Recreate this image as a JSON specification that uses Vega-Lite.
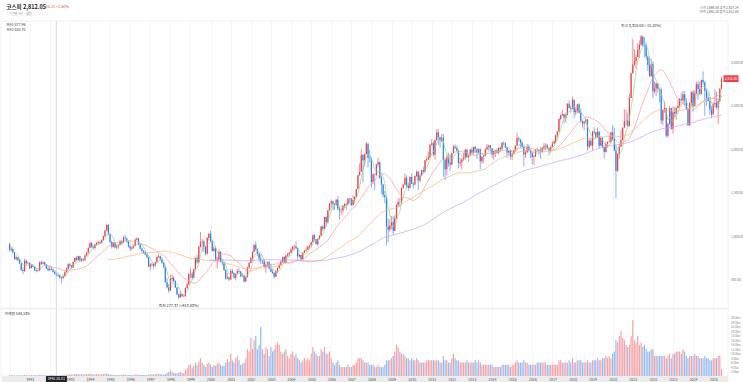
{
"$schema":"https://vega.github.io/schema/vega-lite/v6.json",
"background":"white",
"padding":{"top":3,"left":0,"right":0,"bottom":0},
"bounds":"flush",
"spacing":1,
"config":{"font":"Noto Sans CJK KR","view":{"stroke":"#e4e4e4","strokeWidth":0.6}},
"datasets":{"k":[
{"d":"1990-01","o":910,"h":925,"l":820,"c":845,"v":0.35},
{"d":"1990-02","o":845,"h":880,"l":825,"c":852,"v":0.3},
{"d":"1990-03","o":852,"h":870,"l":800,"c":816,"v":0.3},
{"d":"1990-04","o":816,"h":820,"l":730,"c":738,"v":0.25},
{"d":"1990-05","o":738,"h":775,"l":720,"c":758,"v":0.3},
{"d":"1990-06","o":758,"h":765,"l":715,"c":724,"v":0.25},
{"d":"1990-07","o":724,"h":740,"l":680,"c":689,"v":0.3},
{"d":"1990-08","o":689,"h":695,"l":600,"c":611,"v":0.35},
{"d":"1990-09","o":611,"h":640,"l":566,"c":599,"v":0.3},
{"d":"1990-10","o":599,"h":740,"l":590,"c":719,"v":0.45},
{"d":"1990-11","o":719,"h":730,"l":670,"c":690,"v":0.35},
{"d":"1990-12","o":690,"h":710,"l":675,"c":696,"v":0.3},
{"d":"1991-01","o":696,"h":700,"l":620,"c":635,"v":0.35},
{"d":"1991-02","o":635,"h":680,"l":630,"c":665,"v":0.4},
{"d":"1991-03","o":665,"h":680,"l":640,"c":650,"v":0.35},
{"d":"1991-04","o":650,"h":655,"l":600,"c":610,"v":0.3},
{"d":"1991-05","o":610,"h":630,"l":585,"c":600,"v":0.3},
{"d":"1991-06","o":600,"h":620,"l":590,"c":605,"v":0.3},
{"d":"1991-07","o":605,"h":710,"l":600,"c":700,"v":0.45},
{"d":"1991-08","o":700,"h":720,"l":670,"c":680,"v":0.4},
{"d":"1991-09","o":680,"h":710,"l":675,"c":700,"v":0.4},
{"d":"1991-10","o":700,"h":705,"l":660,"c":670,"v":0.35},
{"d":"1991-11","o":670,"h":680,"l":620,"c":630,"v":0.35},
{"d":"1991-12","o":630,"h":650,"l":595,"c":610,"v":0.35},
{"d":"1992-01","o":610,"h":660,"l":600,"c":624,"v":0.45},
{"d":"1992-02","o":624,"h":650,"l":610,"c":617,"v":0.5},
{"d":"1992-03","o":617,"h":630,"l":580,"c":590,"v":0.4},
{"d":"1992-04","o":590,"h":605,"l":555,"c":568,"v":0.35},
{"d":"1992-05","o":568,"h":585,"l":540,"c":555,"v":0.35},
{"d":"1992-06","o":555,"h":570,"l":530,"c":545,"v":0.35},
{"d":"1992-07","o":545,"h":560,"l":505,"c":527,"v":0.35},
{"d":"1992-08","o":527,"h":535,"l":459,"c":519,"v":0.4},
{"d":"1992-09","o":519,"h":560,"l":505,"c":540,"v":0.45},
{"d":"1992-10","o":540,"h":600,"l":535,"c":585,"v":0.55},
{"d":"1992-11","o":585,"h":640,"l":580,"c":624,"v":0.6},
{"d":"1992-12","o":624,"h":690,"l":615,"c":678,"v":0.7},
{"d":"1993-01","o":678,"h":690,"l":640,"c":660,"v":0.7},
{"d":"1993-02","o":660,"h":670,"l":625,"c":640,"v":0.6},
{"d":"1993-03","o":640,"h":710,"l":635,"c":705,"v":0.7},
{"d":"1993-04","o":705,"h":760,"l":700,"c":750,"v":0.9},
{"d":"1993-05","o":750,"h":770,"l":720,"c":727,"v":0.8},
{"d":"1993-06","o":727,"h":780,"l":720,"c":770,"v":0.8},
{"d":"1993-07","o":770,"h":775,"l":705,"c":720,"v":0.7},
{"d":"1993-08","o":720,"h":750,"l":700,"c":737,"v":0.75},
{"d":"1993-09","o":737,"h":745,"l":710,"c":725,"v":0.7},
{"d":"1993-10","o":725,"h":790,"l":720,"c":780,"v":0.8},
{"d":"1993-11","o":780,"h":820,"l":770,"c":810,"v":0.9},
{"d":"1993-12","o":810,"h":870,"l":800,"c":866,"v":1.0},
{"d":"1994-01","o":866,"h":940,"l":860,"c":920,"v":1.0},
{"d":"1994-02","o":920,"h":935,"l":870,"c":880,"v":0.8},
{"d":"1994-03","o":880,"h":895,"l":845,"c":865,"v":0.7},
{"d":"1994-04","o":865,"h":915,"l":850,"c":905,"v":0.8},
{"d":"1994-05","o":905,"h":935,"l":890,"c":925,"v":0.8},
{"d":"1994-06","o":925,"h":950,"l":905,"c":935,"v":0.8},
{"d":"1994-07","o":935,"h":950,"l":910,"c":925,"v":0.7},
{"d":"1994-08","o":925,"h":965,"l":915,"c":955,"v":0.8},
{"d":"1994-09","o":955,"h":1010,"l":945,"c":1000,"v":0.9},
{"d":"1994-10","o":1000,"h":1075,"l":990,"c":1065,"v":1.0},
{"d":"1994-11","o":1065,"h":1145,"l":1055,"c":1130,"v":1.1},
{"d":"1994-12","o":1130,"h":1140,"l":1010,"c":1027,"v":0.9},
{"d":"1995-01","o":1027,"h":1030,"l":920,"c":935,"v":0.7},
{"d":"1995-02","o":935,"h":950,"l":860,"c":880,"v":0.6},
{"d":"1995-03","o":880,"h":935,"l":870,"c":925,"v":0.6},
{"d":"1995-04","o":925,"h":935,"l":860,"c":870,"v":0.5},
{"d":"1995-05","o":870,"h":900,"l":850,"c":885,"v":0.5},
{"d":"1995-06","o":885,"h":910,"l":855,"c":900,"v":0.5},
{"d":"1995-07","o":900,"h":955,"l":895,"c":945,"v":0.6},
{"d":"1995-08","o":945,"h":955,"l":900,"c":925,"v":0.6},
{"d":"1995-09","o":925,"h":1000,"l":920,"c":985,"v":0.7},
{"d":"1995-10","o":985,"h":1015,"l":960,"c":975,"v":0.6},
{"d":"1995-11","o":975,"h":985,"l":920,"c":940,"v":0.5},
{"d":"1995-12","o":940,"h":950,"l":870,"c":882,"v":0.5},
{"d":"1996-01","o":882,"h":900,"l":830,"c":860,"v":0.5},
{"d":"1996-02","o":860,"h":885,"l":840,"c":870,"v":0.5},
{"d":"1996-03","o":870,"h":905,"l":855,"c":890,"v":0.5},
{"d":"1996-04","o":890,"h":975,"l":880,"c":960,"v":0.7},
{"d":"1996-05","o":960,"h":990,"l":950,"c":975,"v":0.7},
{"d":"1996-06","o":975,"h":980,"l":895,"c":905,"v":0.5},
{"d":"1996-07","o":905,"h":910,"l":845,"c":860,"v":0.5},
{"d":"1996-08","o":860,"h":870,"l":810,"c":830,"v":0.5},
{"d":"1996-09","o":830,"h":845,"l":795,"c":815,"v":0.5},
{"d":"1996-10","o":815,"h":830,"l":780,"c":790,"v":0.5},
{"d":"1996-11","o":790,"h":800,"l":740,"c":760,"v":0.5},
{"d":"1996-12","o":760,"h":770,"l":645,"c":651,"v":0.6},
{"d":"1997-01","o":651,"h":690,"l":610,"c":676,"v":0.8},
{"d":"1997-02","o":676,"h":700,"l":650,"c":680,"v":0.8},
{"d":"1997-03","o":680,"h":690,"l":620,"c":660,"v":0.7},
{"d":"1997-04","o":660,"h":705,"l":650,"c":700,"v":0.8},
{"d":"1997-05","o":700,"h":770,"l":695,"c":760,"v":1.0},
{"d":"1997-06","o":760,"h":795,"l":750,"c":770,"v":0.9},
{"d":"1997-07","o":770,"h":780,"l":720,"c":735,"v":0.8},
{"d":"1997-08","o":735,"h":760,"l":680,"c":695,"v":0.8},
{"d":"1997-09","o":695,"h":700,"l":630,"c":647,"v":0.7},
{"d":"1997-10","o":647,"h":660,"l":465,"c":470,"v":0.9},
{"d":"1997-11","o":470,"h":520,"l":400,"c":410,"v":1.3},
{"d":"1997-12","o":410,"h":450,"l":351,"c":376,"v":1.8},
{"d":"1998-01","o":376,"h":560,"l":370,"c":506,"v":2.6},
{"d":"1998-02","o":506,"h":560,"l":475,"c":520,"v":2.0},
{"d":"1998-03","o":520,"h":545,"l":470,"c":482,"v":1.5},
{"d":"1998-04","o":482,"h":495,"l":405,"c":410,"v":1.2},
{"d":"1998-05","o":410,"h":420,"l":325,"c":330,"v":1.3},
{"d":"1998-06","o":330,"h":345,"l":277.37,"c":298,"v":1.5},
{"d":"1998-07","o":298,"h":370,"l":290,"c":332,"v":1.8},
{"d":"1998-08","o":332,"h":345,"l":298,"c":310,"v":1.5},
{"d":"1998-09","o":310,"h":335,"l":300,"c":312,"v":1.3},
{"d":"1998-10","o":312,"h":410,"l":305,"c":405,"v":2.8},
{"d":"1998-11","o":405,"h":470,"l":395,"c":448,"v":3.5},
{"d":"1998-12","o":448,"h":580,"l":440,"c":562,"v":5.0},
{"d":"1999-01","o":562,"h":640,"l":520,"c":570,"v":5.0},
{"d":"1999-02","o":570,"h":590,"l":500,"c":520,"v":3.5},
{"d":"1999-03","o":520,"h":625,"l":515,"c":620,"v":4.5},
{"d":"1999-04","o":620,"h":760,"l":615,"c":750,"v":6.0},
{"d":"1999-05","o":750,"h":790,"l":680,"c":700,"v":5.0},
{"d":"1999-06","o":700,"h":885,"l":695,"c":880,"v":6.5},
{"d":"1999-07","o":880,"h":1050,"l":870,"c":930,"v":8.0},
{"d":"1999-08","o":930,"h":970,"l":830,"c":940,"v":6.0},
{"d":"1999-09","o":940,"h":955,"l":820,"c":880,"v":5.0},
{"d":"1999-10","o":880,"h":890,"l":780,"c":800,"v":4.0},
{"d":"1999-11","o":800,"h":990,"l":790,"c":980,"v":5.5},
{"d":"1999-12","o":980,"h":1035,"l":950,"c":1028,"v":6.0},
{"d":"2000-01","o":1028,"h":1066,"l":930,"c":943,"v":5.0},
{"d":"2000-02","o":943,"h":960,"l":825,"c":830,"v":4.0},
{"d":"2000-03","o":830,"h":890,"l":820,"c":860,"v":5.0},
{"d":"2000-04","o":860,"h":880,"l":710,"c":725,"v":4.5},
{"d":"2000-05","o":725,"h":760,"l":630,"c":730,"v":5.5},
{"d":"2000-06","o":730,"h":850,"l":700,"c":820,"v":6.0},
{"d":"2000-07","o":820,"h":830,"l":700,"c":705,"v":5.0},
{"d":"2000-08","o":705,"h":735,"l":660,"c":690,"v":4.5},
{"d":"2000-09","o":690,"h":710,"l":600,"c":613,"v":4.5},
{"d":"2000-10","o":613,"h":625,"l":500,"c":514,"v":6.0},
{"d":"2000-11","o":514,"h":580,"l":505,"c":526,"v":7.5},
{"d":"2000-12","o":526,"h":540,"l":483,"c":504,"v":6.5},
{"d":"2001-01","o":504,"h":625,"l":500,"c":600,"v":10},
{"d":"2001-02","o":600,"h":625,"l":565,"c":575,"v":7},
{"d":"2001-03","o":575,"h":585,"l":510,"c":523,"v":6},
{"d":"2001-04","o":523,"h":575,"l":490,"c":570,"v":8},
{"d":"2001-05","o":570,"h":630,"l":560,"c":600,"v":9},
{"d":"2001-06","o":600,"h":630,"l":580,"c":595,"v":7},
{"d":"2001-07","o":595,"h":600,"l":530,"c":540,"v":5},
{"d":"2001-08","o":540,"h":575,"l":535,"c":545,"v":5.5},
{"d":"2001-09","o":545,"h":555,"l":468,"c":480,"v":6},
{"d":"2001-10","o":480,"h":540,"l":475,"c":530,"v":8},
{"d":"2001-11","o":530,"h":650,"l":525,"c":640,"v":12},
{"d":"2001-12","o":640,"h":705,"l":630,"c":693,"v":11},
{"d":"2002-01","o":693,"h":760,"l":690,"c":750,"v":17},
{"d":"2002-02","o":750,"h":825,"l":720,"c":820,"v":12},
{"d":"2002-03","o":820,"h":915,"l":815,"c":900,"v":16},
{"d":"2002-04","o":900,"h":943,"l":835,"c":850,"v":18},
{"d":"2002-05","o":850,"h":860,"l":770,"c":800,"v":12},
{"d":"2002-06","o":800,"h":820,"l":700,"c":742,"v":14},
{"d":"2002-07","o":742,"h":790,"l":680,"c":720,"v":22},
{"d":"2002-08","o":720,"h":730,"l":680,"c":720,"v":12},
{"d":"2002-09","o":720,"h":730,"l":640,"c":650,"v":10},
{"d":"2002-10","o":650,"h":690,"l":580,"c":670,"v":13},
{"d":"2002-11","o":670,"h":710,"l":650,"c":700,"v":12},
{"d":"2002-12","o":700,"h":720,"l":620,"c":627,"v":9},
{"d":"2003-01","o":627,"h":680,"l":585,"c":591,"v":13},
{"d":"2003-02","o":591,"h":620,"l":570,"c":575,"v":11},
{"d":"2003-03","o":575,"h":590,"l":515,"c":535,"v":12},
{"d":"2003-04","o":535,"h":610,"l":530,"c":600,"v":14},
{"d":"2003-05","o":600,"h":640,"l":580,"c":633,"v":15},
{"d":"2003-06","o":633,"h":685,"l":630,"c":670,"v":14},
{"d":"2003-07","o":670,"h":725,"l":660,"c":710,"v":11},
{"d":"2003-08","o":710,"h":765,"l":690,"c":760,"v":10},
{"d":"2003-09","o":760,"h":770,"l":690,"c":697,"v":11},
{"d":"2003-10","o":697,"h":790,"l":690,"c":779,"v":12},
{"d":"2003-11","o":779,"h":810,"l":760,"c":796,"v":9},
{"d":"2003-12","o":796,"h":820,"l":765,"c":810,"v":8},
{"d":"2004-01","o":810,"h":870,"l":805,"c":848,"v":10},
{"d":"2004-02","o":848,"h":890,"l":830,"c":880,"v":11},
{"d":"2004-03","o":880,"h":905,"l":850,"c":883,"v":9},
{"d":"2004-04","o":883,"h":940,"l":860,"c":862,"v":10},
{"d":"2004-05","o":862,"h":870,"l":715,"c":770,"v":8},
{"d":"2004-06","o":770,"h":800,"l":750,"c":785,"v":7},
{"d":"2004-07","o":785,"h":790,"l":720,"c":735,"v":6},
{"d":"2004-08","o":735,"h":815,"l":730,"c":810,"v":7},
{"d":"2004-09","o":810,"h":845,"l":805,"c":835,"v":8},
{"d":"2004-10","o":835,"h":870,"l":820,"c":845,"v":7},
{"d":"2004-11","o":845,"h":890,"l":840,"c":880,"v":8},
{"d":"2004-12","o":880,"h":900,"l":860,"c":896,"v":7},
{"d":"2005-01","o":896,"h":940,"l":870,"c":932,"v":10},
{"d":"2005-02","o":932,"h":1020,"l":925,"c":1011,"v":13},
{"d":"2005-03","o":1011,"h":1025,"l":950,"c":965,"v":11},
{"d":"2005-04","o":965,"h":970,"l":900,"c":911,"v":10},
{"d":"2005-05","o":911,"h":975,"l":890,"c":970,"v":9},
{"d":"2005-06","o":970,"h":1010,"l":960,"c":1008,"v":9},
{"d":"2005-07","o":1008,"h":1115,"l":1000,"c":1111,"v":12},
{"d":"2005-08","o":1111,"h":1130,"l":1060,"c":1083,"v":11},
{"d":"2005-09","o":1083,"h":1225,"l":1080,"c":1221,"v":13},
{"d":"2005-10","o":1221,"h":1230,"l":1110,"c":1158,"v":10},
{"d":"2005-11","o":1158,"h":1300,"l":1150,"c":1297,"v":10},
{"d":"2005-12","o":1297,"h":1380,"l":1290,"c":1379,"v":11},
{"d":"2006-01","o":1379,"h":1421,"l":1320,"c":1399,"v":8},
{"d":"2006-02","o":1399,"h":1410,"l":1300,"c":1371,"v":6},
{"d":"2006-03","o":1371,"h":1380,"l":1300,"c":1359,"v":5},
{"d":"2006-04","o":1359,"h":1430,"l":1350,"c":1420,"v":6},
{"d":"2006-05","o":1420,"h":1464,"l":1300,"c":1317,"v":7},
{"d":"2006-06","o":1317,"h":1340,"l":1192,"c":1295,"v":5},
{"d":"2006-07","o":1295,"h":1320,"l":1240,"c":1297,"v":4},
{"d":"2006-08","o":1297,"h":1360,"l":1270,"c":1352,"v":4},
{"d":"2006-09","o":1352,"h":1385,"l":1320,"c":1371,"v":4},
{"d":"2006-10","o":1371,"h":1380,"l":1300,"c":1364,"v":4},
{"d":"2006-11","o":1364,"h":1440,"l":1360,"c":1432,"v":5},
{"d":"2006-12","o":1432,"h":1440,"l":1380,"c":1434,"v":4},
{"d":"2007-01","o":1434,"h":1440,"l":1345,"c":1360,"v":4},
{"d":"2007-02","o":1360,"h":1470,"l":1355,"c":1417,"v":5},
{"d":"2007-03","o":1417,"h":1460,"l":1380,"c":1452,"v":5},
{"d":"2007-04","o":1452,"h":1545,"l":1445,"c":1542,"v":6},
{"d":"2007-05","o":1542,"h":1705,"l":1540,"c":1700,"v":8},
{"d":"2007-06","o":1700,"h":1840,"l":1690,"c":1743,"v":8},
{"d":"2007-07","o":1743,"h":2005,"l":1740,"c":1933,"v":8},
{"d":"2007-08","o":1933,"h":1950,"l":1620,"c":1873,"v":7},
{"d":"2007-09","o":1873,"h":1950,"l":1800,"c":1946,"v":6},
{"d":"2007-10","o":1946,"h":2085,"l":1940,"c":2064,"v":6},
{"d":"2007-11","o":2064,"h":2070,"l":1790,"c":1906,"v":6},
{"d":"2007-12","o":1906,"h":1990,"l":1850,"c":1897,"v":5},
{"d":"2008-01","o":1897,"h":1900,"l":1560,"c":1624,"v":5},
{"d":"2008-02","o":1624,"h":1730,"l":1600,"c":1711,"v":5},
{"d":"2008-03","o":1711,"h":1720,"l":1535,"c":1704,"v":4},
{"d":"2008-04","o":1704,"h":1830,"l":1690,"c":1825,"v":4},
{"d":"2008-05","o":1825,"h":1901,"l":1800,"c":1852,"v":5},
{"d":"2008-06","o":1852,"h":1860,"l":1660,"c":1674,"v":4},
{"d":"2008-07","o":1674,"h":1700,"l":1488,"c":1594,"v":4},
{"d":"2008-08","o":1594,"h":1600,"l":1446,"c":1474,"v":4},
{"d":"2008-09","o":1474,"h":1520,"l":1380,"c":1448,"v":5},
{"d":"2008-10","o":1448,"h":1450,"l":892,"c":1113,"v":7},
{"d":"2008-11","o":1113,"h":1205,"l":930,"c":1076,"v":7},
{"d":"2008-12","o":1076,"h":1200,"l":1050,"c":1124,"v":7},
{"d":"2009-01","o":1124,"h":1230,"l":1080,"c":1162,"v":8},
{"d":"2009-02","o":1162,"h":1230,"l":1018,"c":1063,"v":9},
{"d":"2009-03","o":1063,"h":1240,"l":1060,"c":1206,"v":11},
{"d":"2009-04","o":1206,"h":1375,"l":1200,"c":1357,"v":14},
{"d":"2009-05","o":1357,"h":1435,"l":1330,"c":1395,"v":13},
{"d":"2009-06","o":1395,"h":1440,"l":1340,"c":1390,"v":11},
{"d":"2009-07","o":1390,"h":1560,"l":1370,"c":1557,"v":10},
{"d":"2009-08","o":1557,"h":1600,"l":1540,"c":1591,"v":10},
{"d":"2009-09","o":1591,"h":1724,"l":1590,"c":1673,"v":9},
{"d":"2009-10","o":1673,"h":1700,"l":1560,"c":1580,"v":8},
{"d":"2009-11","o":1580,"h":1620,"l":1520,"c":1555,"v":8},
{"d":"2009-12","o":1555,"h":1690,"l":1550,"c":1682,"v":7},
{"d":"2010-01","o":1682,"h":1723,"l":1600,"c":1602,"v":8},
{"d":"2010-02","o":1602,"h":1625,"l":1552,"c":1594,"v":7},
{"d":"2010-03","o":1594,"h":1700,"l":1590,"c":1692,"v":7},
{"d":"2010-04","o":1692,"h":1757,"l":1680,"c":1741,"v":8},
{"d":"2010-05","o":1741,"h":1752,"l":1532,"c":1641,"v":7},
{"d":"2010-06","o":1641,"h":1720,"l":1620,"c":1698,"v":6},
{"d":"2010-07","o":1698,"h":1765,"l":1690,"c":1759,"v":6},
{"d":"2010-08","o":1759,"h":1800,"l":1720,"c":1742,"v":6},
{"d":"2010-09","o":1742,"h":1880,"l":1740,"c":1872,"v":6},
{"d":"2010-10","o":1872,"h":1920,"l":1860,"c":1882,"v":7},
{"d":"2010-11","o":1882,"h":1975,"l":1880,"c":1904,"v":7},
{"d":"2010-12","o":1904,"h":2060,"l":1900,"c":2051,"v":7},
{"d":"2011-01","o":2051,"h":2117,"l":2040,"c":2069,"v":7},
{"d":"2011-02","o":2069,"h":2090,"l":1920,"c":1939,"v":7},
{"d":"2011-03","o":1939,"h":2110,"l":1882,"c":2106,"v":7},
{"d":"2011-04","o":2106,"h":2231,"l":2100,"c":2192,"v":7},
{"d":"2011-05","o":2192,"h":2229,"l":2050,"c":2142,"v":7},
{"d":"2011-06","o":2142,"h":2145,"l":2020,"c":2100,"v":6},
{"d":"2011-07","o":2100,"h":2180,"l":2080,"c":2133,"v":6},
{"d":"2011-08","o":2133,"h":2175,"l":1684,"c":1880,"v":9},
{"d":"2011-09","o":1880,"h":1890,"l":1644,"c":1769,"v":7},
{"d":"2011-10","o":1769,"h":1930,"l":1700,"c":1909,"v":7},
{"d":"2011-11","o":1909,"h":1960,"l":1800,"c":1847,"v":6},
{"d":"2011-12","o":1847,"h":1946,"l":1750,"c":1826,"v":6},
{"d":"2012-01","o":1826,"h":1960,"l":1815,"c":1955,"v":8},
{"d":"2012-02","o":1955,"h":2050,"l":1950,"c":2030,"v":10},
{"d":"2012-03","o":2030,"h":2057,"l":2000,"c":2014,"v":8},
{"d":"2012-04","o":2014,"h":2040,"l":1970,"c":1982,"v":7},
{"d":"2012-05","o":1982,"h":1995,"l":1780,"c":1843,"v":7},
{"d":"2012-06","o":1843,"h":1900,"l":1800,"c":1854,"v":6},
{"d":"2012-07","o":1854,"h":1900,"l":1770,"c":1881,"v":6},
{"d":"2012-08","o":1881,"h":1960,"l":1870,"c":1905,"v":6},
{"d":"2012-09","o":1905,"h":2007,"l":1880,"c":1996,"v":6},
{"d":"2012-10","o":1996,"h":2000,"l":1900,"c":1912,"v":7},
{"d":"2012-11","o":1912,"h":1940,"l":1860,"c":1932,"v":6},
{"d":"2012-12","o":1932,"h":2000,"l":1920,"c":1997,"v":6},
{"d":"2013-01","o":1997,"h":2031,"l":1940,"c":1961,"v":6},
{"d":"2013-02","o":1961,"h":2030,"l":1935,"c":2026,"v":6},
{"d":"2013-03","o":2026,"h":2040,"l":1960,"c":2005,"v":7},
{"d":"2013-04","o":2005,"h":2010,"l":1890,"c":1964,"v":6},
{"d":"2013-05","o":1964,"h":2010,"l":1950,"c":2001,"v":7},
{"d":"2013-06","o":2001,"h":2010,"l":1770,"c":1863,"v":6},
{"d":"2013-07","o":1863,"h":1920,"l":1830,"c":1914,"v":5},
{"d":"2013-08","o":1914,"h":1940,"l":1845,"c":1926,"v":5},
{"d":"2013-09","o":1926,"h":2010,"l":1920,"c":1997,"v":5},
{"d":"2013-10","o":1997,"h":2060,"l":1990,"c":2030,"v":5},
{"d":"2013-11","o":2030,"h":2050,"l":1990,"c":2044,"v":5},
{"d":"2013-12","o":2044,"h":2050,"l":1960,"c":2011,"v":5},
{"d":"2014-01","o":2011,"h":2015,"l":1900,"c":1941,"v":5},
{"d":"2014-02","o":1941,"h":1985,"l":1880,"c":1980,"v":4},
{"d":"2014-03","o":1980,"h":1990,"l":1910,"c":1985,"v":4},
{"d":"2014-04","o":1985,"h":2010,"l":1950,"c":1961,"v":4},
{"d":"2014-05","o":1961,"h":2020,"l":1940,"c":2017,"v":4},
{"d":"2014-06","o":2017,"h":2030,"l":1970,"c":2002,"v":4},
{"d":"2014-07","o":2002,"h":2082,"l":1990,"c":2076,"v":5},
{"d":"2014-08","o":2076,"h":2093,"l":2040,"c":2068,"v":5},
{"d":"2014-09","o":2068,"h":2080,"l":2010,"c":2020,"v":5},
{"d":"2014-10","o":2020,"h":2030,"l":1900,"c":1964,"v":5},
{"d":"2014-11","o":1964,"h":1990,"l":1930,"c":1981,"v":5},
{"d":"2014-12","o":1981,"h":2000,"l":1880,"c":1916,"v":4},
{"d":"2015-01","o":1916,"h":1960,"l":1880,"c":1949,"v":5},
{"d":"2015-02","o":1949,"h":1990,"l":1940,"c":1986,"v":5},
{"d":"2015-03","o":1986,"h":2050,"l":1975,"c":2041,"v":6},
{"d":"2015-04","o":2041,"h":2189,"l":2040,"c":2127,"v":7},
{"d":"2015-05","o":2127,"h":2145,"l":2090,"c":2114,"v":6},
{"d":"2015-06","o":2114,"h":2120,"l":2020,"c":2074,"v":6},
{"d":"2015-07","o":2074,"h":2100,"l":2020,"c":2030,"v":6},
{"d":"2015-08","o":2030,"h":2040,"l":1800,"c":1941,"v":7},
{"d":"2015-09","o":1941,"h":1990,"l":1900,"c":1963,"v":6},
{"d":"2015-10","o":1963,"h":2060,"l":1960,"c":2029,"v":6},
{"d":"2015-11","o":2029,"h":2055,"l":1970,"c":1991,"v":5},
{"d":"2015-12","o":1991,"h":2000,"l":1900,"c":1961,"v":5},
{"d":"2016-01","o":1961,"h":1970,"l":1830,"c":1912,"v":5},
{"d":"2016-02","o":1912,"h":1935,"l":1817,"c":1917,"v":5},
{"d":"2016-03","o":1917,"h":2000,"l":1910,"c":1996,"v":5},
{"d":"2016-04","o":1996,"h":2020,"l":1970,"c":1994,"v":6},
{"d":"2016-05","o":1994,"h":2000,"l":1930,"c":1983,"v":6},
{"d":"2016-06","o":1983,"h":2030,"l":1890,"c":1970,"v":6},
{"d":"2016-07","o":1970,"h":2025,"l":1960,"c":2016,"v":6},
{"d":"2016-08","o":2016,"h":2070,"l":2000,"c":2034,"v":6},
{"d":"2016-09","o":2034,"h":2070,"l":1990,"c":2043,"v":6},
{"d":"2016-10","o":2043,"h":2060,"l":2000,"c":2008,"v":5},
{"d":"2016-11","o":2008,"h":2020,"l":1930,"c":1983,"v":5},
{"d":"2016-12","o":1983,"h":2040,"l":1960,"c":2026,"v":5},
{"d":"2017-01","o":2026,"h":2090,"l":2020,"c":2067,"v":5},
{"d":"2017-02","o":2067,"h":2100,"l":2060,"c":2091,"v":5},
{"d":"2017-03","o":2091,"h":2170,"l":2070,"c":2160,"v":5},
{"d":"2017-04","o":2160,"h":2210,"l":2130,"c":2205,"v":5},
{"d":"2017-05","o":2205,"h":2355,"l":2200,"c":2347,"v":7},
{"d":"2017-06","o":2347,"h":2400,"l":2330,"c":2392,"v":7},
{"d":"2017-07","o":2392,"h":2453,"l":2380,"c":2402,"v":6},
{"d":"2017-08","o":2402,"h":2410,"l":2300,"c":2363,"v":6},
{"d":"2017-09","o":2363,"h":2420,"l":2310,"c":2394,"v":6},
{"d":"2017-10","o":2394,"h":2530,"l":2390,"c":2523,"v":6},
{"d":"2017-11","o":2523,"h":2561,"l":2470,"c":2476,"v":7},
{"d":"2017-12","o":2476,"h":2500,"l":2420,"c":2467,"v":6},
{"d":"2018-01","o":2467,"h":2607,"l":2460,"c":2566,"v":8},
{"d":"2018-02","o":2566,"h":2580,"l":2360,"c":2427,"v":6},
{"d":"2018-03","o":2427,"h":2480,"l":2390,"c":2445,"v":6},
{"d":"2018-04","o":2445,"h":2520,"l":2410,"c":2515,"v":7},
{"d":"2018-05","o":2515,"h":2530,"l":2410,"c":2423,"v":7},
{"d":"2018-06","o":2423,"h":2470,"l":2310,"c":2326,"v":7},
{"d":"2018-07","o":2326,"h":2330,"l":2250,"c":2295,"v":6},
{"d":"2018-08","o":2295,"h":2330,"l":2220,"c":2322,"v":6},
{"d":"2018-09","o":2322,"h":2360,"l":2290,"c":2343,"v":6},
{"d":"2018-10","o":2343,"h":2345,"l":1985,"c":2029,"v":7},
{"d":"2018-11","o":2029,"h":2120,"l":2010,"c":2097,"v":6},
{"d":"2018-12","o":2097,"h":2130,"l":2040,"c":2041,"v":6},
{"d":"2019-01","o":2041,"h":2210,"l":1990,"c":2205,"v":7},
{"d":"2019-02","o":2205,"h":2250,"l":2170,"c":2195,"v":7},
{"d":"2019-03","o":2195,"h":2200,"l":2120,"c":2140,"v":7},
{"d":"2019-04","o":2140,"h":2250,"l":2130,"c":2203,"v":8},
{"d":"2019-05","o":2203,"h":2210,"l":2010,"c":2041,"v":7},
{"d":"2019-06","o":2041,"h":2140,"l":2040,"c":2130,"v":7},
{"d":"2019-07","o":2130,"h":2140,"l":2010,"c":2024,"v":8},
{"d":"2019-08","o":2024,"h":2030,"l":1891,"c":1968,"v":8},
{"d":"2019-09","o":1968,"h":2090,"l":1960,"c":2063,"v":9},
{"d":"2019-10","o":2063,"h":2090,"l":2020,"c":2083,"v":8},
{"d":"2019-11","o":2083,"h":2160,"l":2080,"c":2087,"v":9},
{"d":"2019-12","o":2087,"h":2200,"l":2070,"c":2197,"v":8},
{"d":"2020-01","o":2197,"h":2277,"l":2110,"c":2119,"v":10},
{"d":"2020-02","o":2119,"h":2250,"l":1980,"c":1987,"v":11},
{"d":"2020-03","o":1987,"h":2040,"l":1439,"c":1754,"v":16},
{"d":"2020-04","o":1754,"h":1960,"l":1740,"c":1947,"v":15},
{"d":"2020-05","o":1947,"h":2060,"l":1890,"c":2030,"v":18},
{"d":"2020-06","o":2030,"h":2220,"l":2030,"c":2108,"v":20},
{"d":"2020-07","o":2108,"h":2250,"l":2100,"c":2249,"v":17},
{"d":"2020-08","o":2249,"h":2460,"l":2240,"c":2326,"v":16},
{"d":"2020-09","o":2326,"h":2450,"l":2270,"c":2327,"v":14},
{"d":"2020-10","o":2327,"h":2420,"l":2260,"c":2267,"v":13},
{"d":"2020-11","o":2267,"h":2640,"l":2260,"c":2591,"v":14},
{"d":"2020-12","o":2591,"h":2880,"l":2590,"c":2873,"v":18},
{"d":"2021-01","o":2873,"h":3266,"l":2870,"c":2976,"v":25},
{"d":"2021-02","o":2976,"h":3150,"l":2960,"c":3013,"v":16},
{"d":"2021-03","o":3013,"h":3090,"l":2930,"c":3061,"v":15},
{"d":"2021-04","o":3061,"h":3220,"l":3060,"c":3147,"v":18},
{"d":"2021-05","o":3147,"h":3250,"l":3050,"c":3203,"v":14},
{"d":"2021-06","o":3203,"h":3316.08,"l":3190,"c":3296,"v":15},
{"d":"2021-07","o":3296,"h":3305,"l":3180,"c":3202,"v":13},
{"d":"2021-08","o":3202,"h":3290,"l":3060,"c":3199,"v":14},
{"d":"2021-09","o":3199,"h":3230,"l":3030,"c":3068,"v":12},
{"d":"2021-10","o":3068,"h":3080,"l":2900,"c":2970,"v":11},
{"d":"2021-11","o":2970,"h":3050,"l":2830,"c":2839,"v":11},
{"d":"2021-12","o":2839,"h":3040,"l":2840,"c":2977,"v":12},
{"d":"2022-01","o":2977,"h":3010,"l":2591,"c":2663,"v":12},
{"d":"2022-02","o":2663,"h":2780,"l":2640,"c":2699,"v":9},
{"d":"2022-03","o":2699,"h":2770,"l":2610,"c":2757,"v":9},
{"d":"2022-04","o":2757,"h":2760,"l":2650,"c":2695,"v":9},
{"d":"2022-05","o":2695,"h":2700,"l":2540,"c":2685,"v":9},
{"d":"2022-06","o":2685,"h":2710,"l":2290,"c":2332,"v":9},
{"d":"2022-07","o":2332,"h":2460,"l":2276,"c":2451,"v":9},
{"d":"2022-08","o":2451,"h":2550,"l":2420,"c":2472,"v":9},
{"d":"2022-09","o":2472,"h":2480,"l":2134,"c":2155,"v":8},
{"d":"2022-10","o":2155,"h":2300,"l":2140,"c":2293,"v":9},
{"d":"2022-11","o":2293,"h":2500,"l":2280,"c":2472,"v":10},
{"d":"2022-12","o":2472,"h":2480,"l":2220,"c":2236,"v":8},
{"d":"2023-01","o":2236,"h":2490,"l":2180,"c":2425,"v":10},
{"d":"2023-02","o":2425,"h":2490,"l":2370,"c":2412,"v":10},
{"d":"2023-03","o":2412,"h":2490,"l":2340,"c":2476,"v":11},
{"d":"2023-04","o":2476,"h":2570,"l":2470,"c":2501,"v":11},
{"d":"2023-05","o":2501,"h":2590,"l":2470,"c":2577,"v":11},
{"d":"2023-06","o":2577,"h":2650,"l":2550,"c":2564,"v":10},
{"d":"2023-07","o":2564,"h":2670,"l":2520,"c":2632,"v":12},
{"d":"2023-08","o":2632,"h":2670,"l":2500,"c":2556,"v":11},
{"d":"2023-09","o":2556,"h":2590,"l":2450,"c":2465,"v":9},
{"d":"2023-10","o":2465,"h":2470,"l":2270,"c":2277,"v":8},
{"d":"2023-11","o":2277,"h":2540,"l":2270,"c":2535,"v":9},
{"d":"2023-12","o":2535,"h":2670,"l":2490,"c":2655,"v":9},
{"d":"2024-01","o":2655,"h":2680,"l":2430,"c":2497,"v":9},
{"d":"2024-02","o":2497,"h":2680,"l":2490,"c":2642,"v":10},
{"d":"2024-03","o":2642,"h":2780,"l":2630,"c":2747,"v":9},
{"d":"2024-04","o":2747,"h":2780,"l":2570,"c":2692,"v":9},
{"d":"2024-05","o":2692,"h":2780,"l":2620,"c":2636,"v":8},
{"d":"2024-06","o":2636,"h":2800,"l":2630,"c":2798,"v":8},
{"d":"2024-07","o":2798,"h":2896,"l":2740,"c":2770,"v":8},
{"d":"2024-08","o":2770,"h":2780,"l":2386,"c":2674,"v":9},
{"d":"2024-09","o":2674,"h":2690,"l":2500,"c":2593,"v":8},
{"d":"2024-10","o":2593,"h":2650,"l":2550,"c":2556,"v":8},
{"d":"2024-11","o":2556,"h":2600,"l":2400,"c":2456,"v":7},
{"d":"2024-12","o":2456,"h":2500,"l":2360,"c":2399,"v":7},
{"d":"2025-01","o":2399,"h":2540,"l":2400,"c":2517,"v":8},
{"d":"2025-02","o":2517,"h":2690,"l":2480,"c":2532,"v":8},
{"d":"2025-03","o":2532,"h":2660,"l":2460,"c":2481,"v":8},
{"d":"2025-04","o":2481,"h":2580,"l":2284,"c":2556,"v":9},
{"d":"2025-05","o":2556,"h":2700,"l":2550,"c":2698,"v":9},
{"d":"2025-06","o":2698,"h":2827,"l":2690,"c":2812.05,"v":3}
]},
"vconcat":[
{
"width":727,"height":287,
"data":{"name":"k"},
"encoding":{"x":{"field":"d","type":"temporal","scale":{"type":"utc","domain":[625536000000,1751068800000]},
  "axis":{"orient":"top","labels":false,"ticks":false,"domain":false,"grid":true,"gridColor":"#f0f0f0","gridWidth":0.6,
  "tickCount":{"interval":"year","step":1},
  "title":["시가  2,698.58    고가  2,827.24","저가  2,682.20    종가  2,812.05"],
  "titleFontSize":3.2,"titleFontWeight":"normal","titleColor":"#555","titleLineHeight":4.2,
  "titleX":737,"titleY":-14,"titleAlign":"right","titleBaseline":"middle"}}},
"layer":[
 {"mark":{"type":"rule","strokeWidth":0.6},
  "encoding":{
   "y":{"field":"l","type":"quantitative","scale":{"domain":[175,3475],"nice":false,"zero":false},
     "axis":{"orient":"left","labels":false,"ticks":false,"domain":false,"grid":false,
       "title":"코스피  2,812.05","titleAngle":0,"titleX":5,"titleY":-15,"titleAlign":"left","titleBaseline":"middle",
       "titleFontSize":5.5,"titleFontWeight":"bold","titleColor":"#222"}},
   "y2":{"field":"h"},
   "color":{"condition":{"test":"datum.c >= datum.o","value":"#ee3f49"},"value":"#2f80ed"}}},
 {"mark":{"type":"bar","width":1.2},
  "encoding":{
   "y":{"field":"o","type":"quantitative",
     "axis":{"orient":"right","values":[500,1000,1500,2000,2500,3000],"format":",.2f","labelFontSize":3.2,"labelColor":"#777",
       "labelPadding":2.5,"ticks":false,"tickSize":0,"domain":false,"grid":false,
       "title":"+44.21  +1.60%","titleAngle":0,"titleX":-685,"titleY":-15,"titleAlign":"left","titleBaseline":"middle",
       "titleFontSize":3.8,"titleFontWeight":"normal","titleColor":"#ee3f49"}},
   "y2":{"field":"c"},
   "color":{"condition":{"test":"datum.c >= datum.o","value":"#ee3f49"},"value":"#2f80ed"}}},
 {"transform":[{"window":[{"op":"mean","field":"c","as":"m"},{"op":"count","as":"n"}],"frame":[-4,0],"sort":[{"field":"d"}]},{"filter":"datum.n >= 5"}],
  "mark":{"type":"line","strokeWidth":0.7},
  "encoding":{"y":{"field":"m","type":"quantitative","axis":null},
   "color":{"datum":"MA1","type":"nominal",
     "scale":{"domain":["MA1","MA2","MA3","MA4"],"range":["#92d68b","#f39c9c","#f7b579","#c6a0ef"]},
     "legend":{"orient":"top-left","values":["MA1","MA2"],"title":null,"symbolSize":0,"symbolOpacity":0,"symbolStrokeWidth":0,
       "labelOffset":0,"labelFontSize":3.6,"labelColor":"#444","offset":1,"padding":1,"rowPadding":0.5,
       "labelExpr":"datum.label == 'MA1' ? 'MA1                 877.96' : 'MA2                 850.70'"}}}},
 {"transform":[{"window":[{"op":"mean","field":"c","as":"m"},{"op":"count","as":"n"}],"frame":[-19,0],"sort":[{"field":"d"}]},{"filter":"datum.n >= 20"}],
  "mark":{"type":"line","strokeWidth":0.7},
  "encoding":{"y":{"field":"m","type":"quantitative","axis":null},"color":{"datum":"MA2","type":"nominal"}}},
 {"transform":[{"window":[{"op":"mean","field":"c","as":"m"},{"op":"count","as":"n"}],"frame":[-59,0],"sort":[{"field":"d"}]},{"filter":"datum.n >= 60"}],
  "mark":{"type":"line","strokeWidth":0.7},
  "encoding":{"y":{"field":"m","type":"quantitative","axis":null},"color":{"datum":"MA3","type":"nominal"}}},
 {"transform":[{"window":[{"op":"mean","field":"c","as":"m"},{"op":"count","as":"n"}],"frame":[-119,0],"sort":[{"field":"d"}]},{"filter":"datum.n >= 120"}],
  "mark":{"type":"line","strokeWidth":0.7},
  "encoding":{"y":{"field":"m","type":"quantitative","axis":null},"color":{"datum":"MA4","type":"nominal"}}},
 {"data":{"values":[{"d":"1992-05"}]},
  "mark":{"type":"rule","color":"#c4c4c4","strokeWidth":0.6},"encoding":{}},
 {"data":{"values":[{"d":"2021-06","p":3316.08,"t":"최고 3,316.08 (-15.20%)"}]},
  "mark":{"type":"text","dy":-7,"fontSize":3.8,"color":"#333","baseline":"bottom"},
  "encoding":{"y":{"field":"p","type":"quantitative","axis":null},"text":{"field":"t"}}},
 {"data":{"values":[{"d":"1998-06","p":277.37,"t":"최저 277.37 (+913.83%)"}]},
  "mark":{"type":"text","dy":5,"fontSize":3.8,"color":"#333","baseline":"top"},
  "encoding":{"y":{"field":"p","type":"quantitative","axis":null},"text":{"field":"t"}}},
 {"data":{"values":[{"d":"2025-06","p":2812.05,"t":"2,812.05"}]},
  "mark":{"type":"point","shape":"M-1,-0.45H1V0.45H-1Z","filled":true,"color":"#ee3f49","opacity":1,"size":225,"xOffset":9.5},
  "encoding":{"y":{"field":"p","type":"quantitative","axis":null}}},
 {"data":{"values":[{"d":"2025-06","p":2812.05,"t":"2,812.05"}]},
  "mark":{"type":"text","dx":9.5,"fontSize":3.2,"color":"white","baseline":"middle","align":"center"},
  "encoding":{"y":{"field":"p","type":"quantitative","axis":null},"text":{"field":"t"}}}
],
"resolve":{"axis":{"y":"independent"}}
},
{
"width":727,"height":67,
"data":{"name":"k"},
"layer":[
 {"transform":[{"filter":"datum.c >= datum.o"}],
  "mark":{"type":"bar","width":1.2,"color":"#f5a3a6"},
  "encoding":{
   "x":{"field":"d","type":"temporal","scale":{"type":"utc","domain":[625536000000,1751068800000]},
    "axis":{"orient":"bottom","format":"%Y","tickCount":{"interval":"year","step":1},"labelFontSize":3.6,"labelColor":"#555",
     "labelExpr":"(datum.label == '1990' || datum.label == '1992') ? '' : datum.label","zindex":0,
     "grid":true,"gridColor":"#f0f0f0","gridWidth":0.6,"ticks":false,"tickSize":0,"domain":true,"domainColor":"#000000","domainOpacity":0.07,"domainWidth":6,"offset":3,
     "labelPadding":0,"labelBaseline":"middle","labelOverlap":false,"title":null}},
   "y":{"field":"v","type":"quantitative","scale":{"domain":[0,30],"nice":false},
   "axis":{"orient":"left","labels":false,"ticks":false,"domain":false,"grid":false,
     "title":"거래량  544,536","titleAngle":0,"titleX":3,"titleY":4,"titleAlign":"left","titleBaseline":"middle",
     "titleFontSize":3.8,"titleFontWeight":"normal","titleColor":"#333"}}}},
 {"transform":[{"filter":"datum.c < datum.o"}],
  "mark":{"type":"bar","width":1.2,"color":"#93bdf4"},
  "encoding":{
   "x":{"field":"d","type":"temporal","axis":null},
   "y":{"field":"v","type":"quantitative",
   "axis":{"orient":"right","values":[2,4,6,8,10,12,14,16,18,20,22,24,26],"labelExpr":"format(datum.value,'.1f') + 'bn'",
     "labelFontSize":3,"labelColor":"#888","labelPadding":2.5,"ticks":false,"tickSize":0,"domain":false,"grid":false,"title":null}}}},
 {"data":{"values":[{"d":"1992-05"}]},
  "mark":{"type":"rule","color":"#c4c4c4","strokeWidth":0.6},
  "encoding":{"x":{"field":"d","type":"temporal",
    "axis":{"orient":"top","labels":false,"ticks":false,"domain":false,"grid":false,
     "title":"기간별   5년 · 월봉","titleX":7,"titleY":-296,"titleAlign":"left","titleBaseline":"middle",
     "titleFontSize":3.2,"titleFontWeight":"normal","titleColor":"#999"}}}},
 {"data":{"values":[{"d":"1992-05","p":-1.34,"t":"1992-05-01"}]},
  "mark":{"type":"point","shape":"M-1,-0.28H1V0.28H-1Z","filled":true,"color":"#1e1e1e","opacity":1,"size":441},
  "encoding":{"x":{"field":"d","type":"temporal","axis":null},"y":{"field":"p","type":"quantitative","axis":null}}},
 {"data":{"values":[{"d":"1992-05","p":-1.34,"t":"1992-05-01"}]},
  "mark":{"type":"text","fontSize":3.4,"color":"white","baseline":"middle","align":"center"},
  "encoding":{"x":{"field":"d","type":"temporal","axis":null},"y":{"field":"p","type":"quantitative","axis":null},"text":{"field":"t"}}}
],
"resolve":{"axis":{"x":"independent","y":"independent"}}
}
]
}
